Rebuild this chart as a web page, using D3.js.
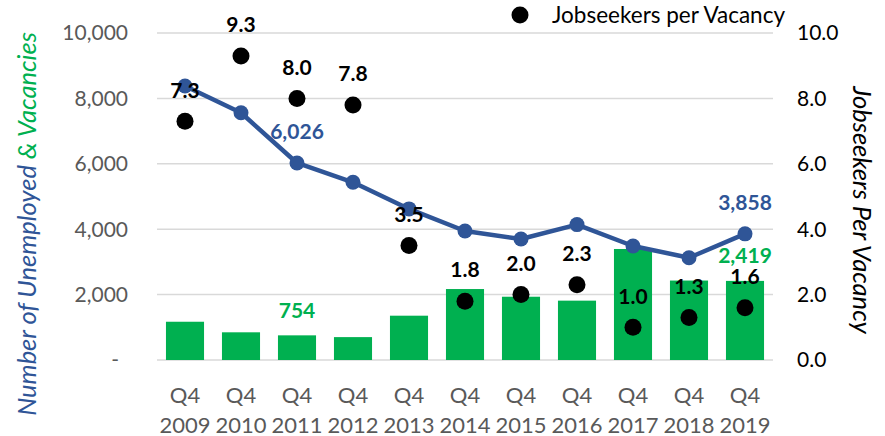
<!DOCTYPE html>
<html><head><meta charset="utf-8">
<script src="https://cdn.jsdelivr.net/npm/d3@7"></script>
<style>
body{margin:0;background:#fff;}
text{font-family:Lato,"Open Sans",sans-serif;}
</style></head>
<body><svg id="c" width="885" height="436"></svg>
<script>
const categories = ["2009","2010","2011","2012","2013","2014","2015","2016","2017","2018","2019"];
const quarterLabel = "Q4";
const unemployed = [8380,7560,6026,5434,4620,3945,3700,4140,3486,3128,3858];
const vacancies = [1170,847,754,700,1355,2170,1935,1815,3395,2430,2419];
const jobseekersPerVacancy = [7.3,9.3,8.0,7.8,3.5,1.8,2.0,2.3,1.0,1.3,1.6];
const leftTicks = [0,2000,4000,6000,8000,10000];
const rightTicks = [0,2,4,6,8,10];
const unemployedLabelIdx = [2,10];
const vacancyLabelIdx = [2,10];

const BLUE="#2F5597", GREEN="#00B050", GRID="#D9D9D9";
const svg=d3.select("#c");
const x=d3.scaleBand().domain(categories).range([157,773]).paddingInner(0.32).paddingOuter(0.16);
const yL=d3.scaleLinear().domain([0,10000]).range([360,33]);
const yR=d3.scaleLinear().domain([0,10]).range([360,33]);
const cx=c=>x(c)+x.bandwidth()/2;

// gridlines
svg.append("g").selectAll("line").data(leftTicks).join("line")
 .attr("x1",157).attr("x2",773).attr("y1",d=>yL(d)).attr("y2",d=>yL(d))
 .attr("stroke",GRID).attr("stroke-width",1.5);

// left axis labels
const fmt=d3.format(",");
svg.append("g").selectAll("text").data(leftTicks).join("text")
 .attr("x",d=>d===0?119:128).attr("y",d=>yL(d)).attr("dy","0.35em")
 .attr("text-anchor","end").attr("font-size",21).attr("fill","#595959")
 .text(d=>d===0?"-":fmt(d));
// right axis labels
svg.append("g").selectAll("text").data(rightTicks).join("text")
 .attr("x",797).attr("y",d=>yR(d)).attr("dy","0.35em")
 .attr("font-size",21).attr("fill","#000")
 .text(d=>d.toFixed(1));
// x labels
const xl=svg.append("g").selectAll("g").data(categories).join("g");
xl.append("text").attr("x",cx).attr("y",403).attr("text-anchor","middle").attr("font-size",22).attr("fill","#595959").text(quarterLabel);
xl.append("text").attr("x",cx).attr("y",433).attr("text-anchor","middle").attr("font-size",22).attr("fill","#595959").text(d=>d);

// bars
svg.append("g").selectAll("rect").data(categories).join("rect")
 .attr("x",c=>x(c)).attr("width",x.bandwidth())
 .attr("y",(c,i)=>yL(vacancies[i])).attr("height",(c,i)=>yL(0)-yL(vacancies[i]))
 .attr("fill",GREEN);

// line
const line=d3.line().x((d,i)=>cx(categories[i])).y(d=>yL(d));
svg.append("path").datum(unemployed).attr("d",line).attr("fill","none")
 .attr("stroke",BLUE).attr("stroke-width",4.5).attr("stroke-linejoin","round");
svg.append("g").selectAll("circle").data(unemployed).join("circle")
 .attr("cx",(d,i)=>cx(categories[i])).attr("cy",d=>yL(d)).attr("r",7.5).attr("fill",BLUE);

// dots
svg.append("g").selectAll("circle").data(jobseekersPerVacancy).join("circle")
 .attr("cx",(d,i)=>cx(categories[i])).attr("cy",d=>yR(d)).attr("r",8.5).attr("fill","#000");

// labels
svg.append("g").selectAll("text").data(unemployedLabelIdx).join("text")
 .attr("x",i=>cx(categories[i])).attr("y",i=>yL(unemployed[i])-31).attr("dy","0.35em")
 .attr("text-anchor","middle").attr("font-size",21).attr("font-weight","bold").attr("fill",BLUE)
 .text(i=>fmt(unemployed[i]));
svg.append("g").selectAll("text").data(vacancyLabelIdx).join("text")
 .attr("x",i=>cx(categories[i])).attr("y",i=>yL(vacancies[i])-25).attr("dy","0.35em")
 .attr("text-anchor","middle").attr("font-size",21).attr("font-weight","bold").attr("fill",GREEN)
 .text(i=>fmt(vacancies[i]));
svg.append("g").selectAll("text").data(jobseekersPerVacancy).join("text")
 .attr("x",(d,i)=>cx(categories[i])).attr("y",d=>yR(d)-31).attr("dy","0.35em")
 .attr("text-anchor","middle").attr("font-size",21).attr("font-weight","bold").attr("fill","#000")
 .text(d=>d.toFixed(1));

// legend
svg.append("circle").attr("cx",520).attr("cy",15).attr("r",8.5).attr("fill","#000");
svg.append("text").attr("x",552).attr("y",15).attr("dy","0.35em").attr("font-size",22.5).attr("fill","#000").text("Jobseekers per Vacancy");

// axis titles
const lt=svg.append("text").attr("transform","translate(36,224) rotate(-90)")
 .attr("text-anchor","middle").attr("font-size",25.5).attr("font-style","italic");
lt.append("tspan").attr("fill",BLUE).text("Number of Unemployed ");
lt.append("tspan").attr("fill",GREEN).text("& Vacancies");
svg.append("text").attr("transform","translate(853,210) rotate(90)")
 .attr("text-anchor","middle").attr("font-size",25.5).attr("font-style","italic").attr("fill","#000")
 .text("Jobseekers Per Vacancy");
</script></body></html>
